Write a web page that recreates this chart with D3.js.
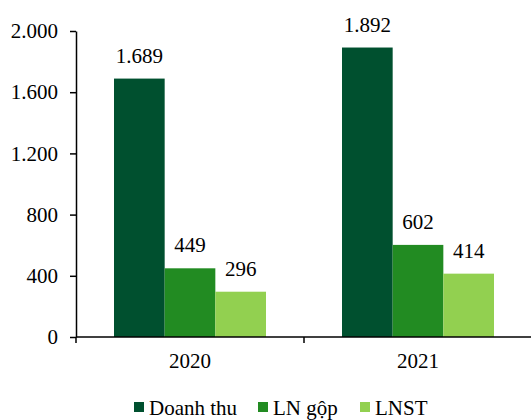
<!DOCTYPE html>
<html>
<head>
<meta charset="utf-8">
<script src="https://cdn.jsdelivr.net/npm/d3@7"></script>
<style>
  html, body { margin: 0; padding: 0; background: #fff; }
  svg { display: block; }
  svg text { font-family: "Times New Roman", "Liberation Serif", "DejaVu Serif", serif !important; fill: #000; }
</style>
</head>
<body>
<svg id="chart" width="531" height="420"></svg>
<script>
const years = ["2020", "2021"];
const seriesNames = ["Doanh thu", "LN gộp", "LNST"];
const doanhThu = [1689, 1892];
const lnGop = [449, 602];
const lnst = [296, 414];
const yTicks = [0, 400, 800, 1200, 1600, 2000];
const colors = ["#00502f", "#228b22", "#92d050"];

const seriesValues = [doanhThu, lnGop, lnst];
const fmt = v => d3.format(",")(v).replace(/,/g, ".");
const serif = '"Times New Roman", "Liberation Serif", serif';

const svg = d3.select("#chart");
const plotLeft = 76, plotRight = 532, plotTop = 31, plotBottom = 337;
const fontSize = 21;

const x = d3.scaleBand().domain(years).range([plotLeft, plotRight]).paddingInner(0).paddingOuter(0);
const inner = d3.scaleBand().domain(seriesNames).range([0, x.bandwidth()]).paddingOuter(0.75).paddingInner(0);
const y = d3.scaleLinear().domain([0, 2000]).range([plotBottom, plotTop]);

// bars and value labels
years.forEach((yr, i) => {
  seriesNames.forEach((s, j) => {
    const v = seriesValues[j][i];
    const bx = x(yr) + inner(s);
    svg.append("rect")
      .attr("x", bx).attr("width", inner.bandwidth())
      .attr("y", y(v)).attr("height", y(0) - y(v))
      .attr("fill", colors[j]);
    svg.append("text")
      .attr("x", bx + inner.bandwidth() / 2)
      .attr("y", y(v) - 16)
      .attr("text-anchor", "middle")
      .attr("font-family", serif)
      .style("font-size", fontSize + "px")
      .text(fmt(v));
  });
});

// y axis
const yAxis = svg.append("g").attr("transform", `translate(${plotLeft},0)`)
  .call(d3.axisLeft(y).tickValues(yTicks).tickFormat(fmt).tickSizeInner(6).tickSizeOuter(0).tickPadding(12))
  .attr("font-family", serif);
yAxis.select(".domain").attr("stroke", "#000").attr("stroke-width", 1.5);
yAxis.selectAll(".tick line").attr("stroke", "#000").attr("stroke-width", 1.5);
yAxis.selectAll(".tick text").style("font-size", fontSize + "px");

// x axis with boundary ticks between year bands
const xg = svg.append("g").attr("transform", `translate(0,${plotBottom})`);
xg.append("line").attr("x1", plotLeft).attr("x2", plotRight).attr("y1", 0).attr("y2", 0)
  .attr("stroke", "#000").attr("stroke-width", 1.5);
const bounds = [plotLeft].concat(years.map(yr => x(yr) + x.bandwidth()));
xg.selectAll("line.bt").data(bounds).enter().append("line")
  .attr("class", "bt")
  .attr("x1", d => d).attr("x2", d => d).attr("y1", 0).attr("y2", 6)
  .attr("stroke", "#000").attr("stroke-width", 1.5);
xg.selectAll("text").data(years).enter().append("text")
  .attr("x", d => x(d) + x.bandwidth() / 2)
  .attr("y", 31)
  .attr("text-anchor", "middle")
  .attr("font-family", serif)
  .style("font-size", fontSize + "px")
  .text(d => d);

// legend
const legendX = [134, 258, 360];
const lg = svg.append("g");
seriesNames.forEach((s, j) => {
  lg.append("rect").attr("x", legendX[j]).attr("y", 402).attr("width", 10).attr("height", 10).attr("fill", colors[j]);
  lg.append("text").attr("x", legendX[j] + 15).attr("y", 415)
    .attr("font-family", serif)
    .style("font-size", fontSize + "px").text(s);
});
</script>
</body>
</html>
